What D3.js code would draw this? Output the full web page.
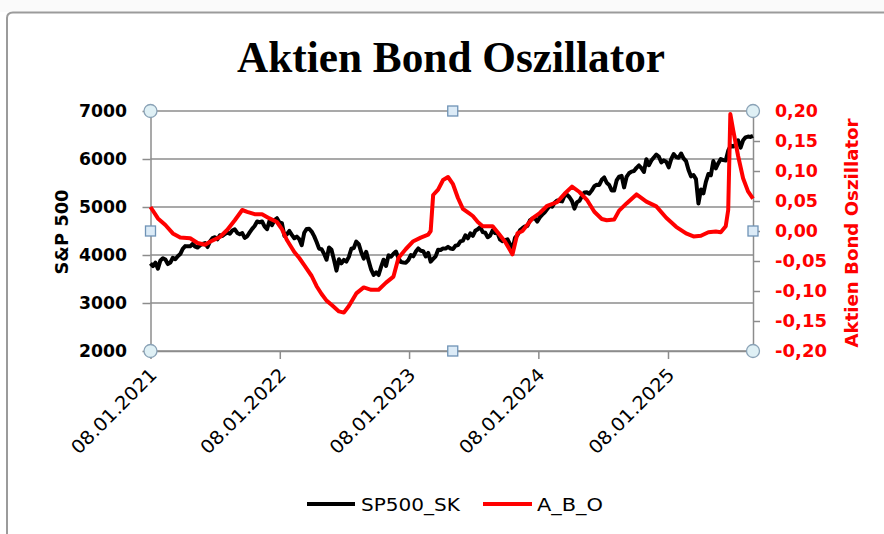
<!DOCTYPE html>
<html><head><meta charset="utf-8">
<script src="https://cdn.jsdelivr.net/npm/d3@7"></script>
<style>body{margin:0;background:#fff}svg{display:block}</style>
</head><body>
<svg id="c" width="884" height="534"></svg>
<script>
const chartTitle = "Aktien Bond Oszillator";
const leftAxisTitle = "S&P 500";
const rightAxisTitle = "Aktien Bond Oszillator";
const seriesNames = ["SP500_SK", "A_B_O"];
const seriesColors = ["#000000", "#ff0000"];
const xTickLabels = ["08.01.2021", "08.01.2022", "08.01.2023", "08.01.2024", "08.01.2025"];
const xDomain = ["08.01.2021", "05.09.2025"];
const leftTicks = [2000, 3000, 4000, 5000, 6000, 7000];
const rightTicks = [-0.20, -0.15, -0.10, -0.05, 0.00, 0.05, 0.10, 0.15, 0.20];

// SP500_SK weekly closes, first week 08.01.2021
const spStart = "08.01.2021";
const sp500 = [
 3824,3768,3841,3714,3887,3934,3907,3811,3842,3943,3913,3975,4020,4129,4185,4180,4181,4233,4174,4156,4204,4230,4247,4166,4281,4352,4370,4327,4412,4395,4437,4468,4442,4509,4535,4459,4433,4455,4357,4391,4471,4545,4605,4697,4683,4698,4595,4538,4712,4621,4726,4766,
 4677,4663,4398,4432,4501,4419,4349,4385,4329,4204,4463,4543,4546,4488,4393,4272,4132,4123,4024,3901,4158,4109,3901,3675,3912,3825,3899,3863,3962,4130,4145,4280,4228,4058,3924,4067,3873,3693,3586,3640,3583,3753,3901,3771,3993,3965,4026,4072,3934,3852,3845,3840,
 3895,3999,3973,4071,4136,4090,4079,3970,4046,3862,3917,3971,4109,4105,4138,4133,4169,4136,4124,4192,4205,4282,4299,4410,4348,4450,4399,4505,4536,4582,4478,4464,4370,4406,4516,4457,4450,4320,4288,4308,4327,4224,4117,4358,4415,4514,4559,4595,4604,4719,4755,4770,
 4697,4784,4840,4891,4959,5027,5006,5089,5137,5124,5117,5234,5254,5204,5123,4967,5100,5128,5223,5303,5305,5278,5347,5432,5465,5460,5567,5615,5505,5459,5346,5344,5554,5634,5648,5408,5626,5703,5738,5751,5815,5865,5808,5729,5996,5870,5969,6032,6090,6051,5931,5971,
 5942,5827,5997,6101,6041,6026,6115,6013,5955,5770,5639,5667,5581,5074,5363,5283,5525,5687,5660,5958,5803,5912,6000,5977,5968,6173,6279,6260,6297,6389,6238,6389,6450,6467,6460,6482
];

// A_B_O (secondary axis)
const aboDates = [
 "2021-01-08","2021-01-29","2021-02-19","2021-03-12","2021-04-02","2021-04-30","2021-05-21","2021-06-11","2021-06-25","2021-07-23",
 "2021-08-13","2021-09-03","2021-09-24","2021-10-08","2021-10-29","2021-11-19","2021-12-10","2021-12-31","2022-01-14","2022-01-28",
 "2022-02-18","2022-03-04","2022-03-18","2022-04-08","2022-04-22","2022-05-06","2022-05-20","2022-06-03","2022-06-24","2022-07-08",
 "2022-07-22","2022-08-12","2022-09-02","2022-09-23","2022-10-14","2022-11-04","2022-11-25","2022-12-09","2022-12-30","2023-01-20",
 "2023-02-10","2023-03-03","2023-03-10","2023-03-17","2023-03-31","2023-04-14","2023-04-28","2023-05-12","2023-05-26","2023-06-09",
 "2023-06-23","2023-07-07","2023-07-21","2023-08-04","2023-09-01","2023-09-15","2023-10-06","2023-10-27","2023-11-10","2023-11-24",
 "2023-12-22","2024-01-12","2024-02-02","2024-03-01","2024-03-22","2024-04-12","2024-05-03","2024-05-24","2024-06-14","2024-07-05",
 "2024-07-19","2024-08-09","2024-08-23","2024-09-13","2024-10-11","2024-11-08","2024-12-06","2025-01-03","2025-01-31","2025-02-28",
 "2025-03-21","2025-04-11","2025-05-02","2025-05-23","2025-06-06","2025-06-20","2025-06-27","2025-07-03","2025-07-11","2025-07-25",
 "2025-08-08","2025-08-22","2025-09-05"
];
const aboValues = [
 0.040,0.021,0.010,-0.004,-0.011,-0.012,-0.020,-0.023,-0.018,-0.010,
 0.002,0.018,0.035,0.032,0.028,0.028,0.021,0.015,0.003,-0.015,
 -0.035,-0.045,-0.057,-0.075,-0.092,-0.105,-0.116,-0.123,-0.134,-0.136,
 -0.125,-0.104,-0.094,-0.098,-0.098,-0.086,-0.076,-0.045,-0.030,-0.017,
 -0.011,-0.006,0.000,0.060,0.069,0.085,0.090,0.078,0.055,0.037,
 0.031,0.025,0.015,0.008,0.008,-0.002,-0.018,-0.039,-0.004,0.000,
 0.021,0.030,0.042,0.048,0.062,0.074,0.065,0.052,0.032,0.020,
 0.018,0.019,0.034,0.046,0.061,0.049,0.041,0.022,0.007,-0.004,
 -0.009,-0.008,-0.002,-0.001,-0.002,0.008,0.035,0.195,0.168,0.125,
 0.088,0.066,0.054
];

const parseDE = d3.timeParse("%d.%m.%Y");
const parseISO = d3.timeParse("%Y-%m-%d");
const start = parseDE(spStart);
const spData = sp500.map((v, i) => ({date: d3.timeDay.offset(start, 7 * i), value: v}));
const aboData = aboDates.map((d, i) => ({date: parseISO(d), value: aboValues[i]}));

const plot = {left: 150.5, right: 753, top: 111, bottom: 351};
const svg = d3.select("#c");
const gray = "#8c8c8c";
const FONT = "'DejaVu Sans', sans-serif";

const x = d3.scaleTime().domain(xDomain.map(parseDE)).range([plot.left, plot.right]);
const yL = d3.scaleLinear().domain([2000, 7000]).range([plot.bottom, plot.top]);
const yR = d3.scaleLinear().domain([-0.2, 0.2]).range([plot.bottom, plot.top]);

// outer frame
svg.append("rect").attr("x", 0).attr("y", 0).attr("width", 884).attr("height", 12).attr("fill", "#fafafa");
svg.append("path").attr("d", "M7,534 V18 Q7,12.5 13,12.5 H884").attr("fill", "none").attr("stroke", "#9b9b9b").attr("stroke-width", 2);

// title
svg.append("text").attr("x", 451).attr("y", 72).attr("text-anchor", "middle")
  .attr("font-family", "'Liberation Serif', serif").attr("font-weight", "bold").attr("font-size", 44)
  .attr("textLength", 428).attr("lengthAdjust", "spacingAndGlyphs").text(chartTitle);

// gridlines
svg.append("g").selectAll("line").data(leftTicks).join("line")
  .attr("x1", plot.left).attr("x2", plot.right).attr("y1", d => yL(d)).attr("y2", d => yL(d))
  .attr("stroke", gray).attr("stroke-width", 1.5);

// left axis
const gL = svg.append("g").attr("transform", `translate(${plot.left},0)`)
  .call(d3.axisLeft(yL).tickValues(leftTicks).tickSize(8).tickSizeOuter(0).tickFormat(d3.format("d")));
gL.select(".domain").attr("stroke", gray).attr("stroke-width", 1.5);
gL.selectAll(".tick line").attr("stroke", gray).attr("stroke-width", 1.5);
gL.selectAll(".tick text").attr("x", -23.5).attr("font-family", FONT).attr("font-weight", "bold")
  .attr("font-size", 17).attr("fill", "#000").attr("textLength", 48).attr("lengthAdjust", "spacingAndGlyphs");

// right axis
const fmtR = v => d3.format(".2f")(v).replace(".", ",").replace("−", "-");
const gR = svg.append("g").attr("transform", `translate(${plot.right},0)`)
  .call(d3.axisRight(yR).tickValues(rightTicks).tickSize(7).tickSizeOuter(0).tickFormat(fmtR));
gR.select(".domain").attr("stroke", gray).attr("stroke-width", 1.5);
gR.selectAll(".tick line").attr("stroke", gray).attr("stroke-width", 1.5);
gR.selectAll(".tick text").attr("x", 22).attr("font-family", FONT).attr("font-weight", "bold")
  .attr("font-size", 17).attr("fill", "#ff0000")
  .attr("textLength", d => d < 0 ? 52 : 43).attr("lengthAdjust", "spacingAndGlyphs");

// x axis
const xTicks = xTickLabels.map(parseDE);
const gX = svg.append("g").attr("transform", `translate(0,${plot.bottom})`)
  .call(d3.axisBottom(x).tickValues(xTicks).tickSize(8).tickSizeOuter(0).tickFormat(d3.timeFormat("%d.%m.%Y")));
gX.select(".domain").attr("stroke", gray).attr("stroke-width", 1.5);
gX.selectAll(".tick line").attr("stroke", gray).attr("stroke-width", 1.5);
gX.selectAll(".tick text")
  .attr("transform", "translate(7,25) rotate(-45)")
  .attr("x", 0).attr("y", 0).attr("dy", 0)
  .attr("text-anchor", "end").attr("font-family", FONT).attr("font-size", 18.5).attr("fill", "#000")
  .attr("textLength", 112).attr("lengthAdjust", "spacingAndGlyphs");

// axis titles
svg.append("text").attr("transform", "translate(68,232) rotate(-90)").attr("text-anchor", "middle")
  .attr("font-family", FONT).attr("font-weight", "bold").attr("font-size", 17).attr("fill", "#000")
  .attr("textLength", 85).attr("lengthAdjust", "spacingAndGlyphs").text(leftAxisTitle);
svg.append("text").attr("transform", "translate(858,233) rotate(-90)").attr("text-anchor", "middle")
  .attr("font-family", FONT).attr("font-weight", "bold").attr("font-size", 18).attr("fill", "#ff0000")
  .attr("textLength", 229).attr("lengthAdjust", "spacingAndGlyphs").text(rightAxisTitle);

// series
const lineL = d3.line().x(d => x(d.date)).y(d => yL(d.value));
const lineR = d3.line().x(d => x(d.date)).y(d => yR(d.value));
svg.append("path").datum(spData).attr("d", lineL).attr("fill", "none")
  .attr("stroke", seriesColors[0]).attr("stroke-width", 4).attr("stroke-linejoin", "round");
svg.append("path").datum(aboData).attr("d", lineR).attr("fill", "none")
  .attr("stroke", seriesColors[1]).attr("stroke-width", 4).attr("stroke-linejoin", "round");

// selection handles
const cx = [plot.left, plot.right], cy = [plot.top, plot.bottom];
const mx = (plot.left + plot.right) / 2 + 1, my = (plot.top + plot.bottom) / 2;
const circles = [[cx[0], cy[0]], [cx[1], cy[0]], [cx[0], cy[1]], [cx[1], cy[1]]];
const squares = [[mx, cy[0]], [mx, cy[1]], [cx[0], my], [cx[1], my]];
svg.append("g").selectAll("circle").data(circles).join("circle")
  .attr("cx", d => d[0]).attr("cy", d => d[1]).attr("r", 6.5)
  .attr("fill", "#dff0f5").attr("stroke", "#8aa2b6").attr("stroke-width", 1.3);
svg.append("g").selectAll("rect").data(squares).join("rect")
  .attr("x", d => d[0] - 5).attr("y", d => d[1] - 5).attr("width", 10).attr("height", 10)
  .attr("fill", "#dcebf7").attr("stroke", "#6f93b6").attr("stroke-width", 1.3);

// legend
const legend = svg.append("g");
const legendItems = [
  {x1: 307, x2: 355, tx: 361, tw: 99},
  {x1: 483, x2: 532, tx: 537, tw: 66}
];
legendItems.forEach((it, i) => {
  legend.append("line").attr("x1", it.x1).attr("x2", it.x2).attr("y1", 504).attr("y2", 504)
    .attr("stroke", seriesColors[i]).attr("stroke-width", 4);
  legend.append("text").attr("x", it.tx).attr("y", 511).attr("font-family", FONT).attr("font-size", 18)
    .attr("fill", "#000").attr("textLength", it.tw).attr("lengthAdjust", "spacingAndGlyphs").text(seriesNames[i]);
});
</script>
</body></html>
